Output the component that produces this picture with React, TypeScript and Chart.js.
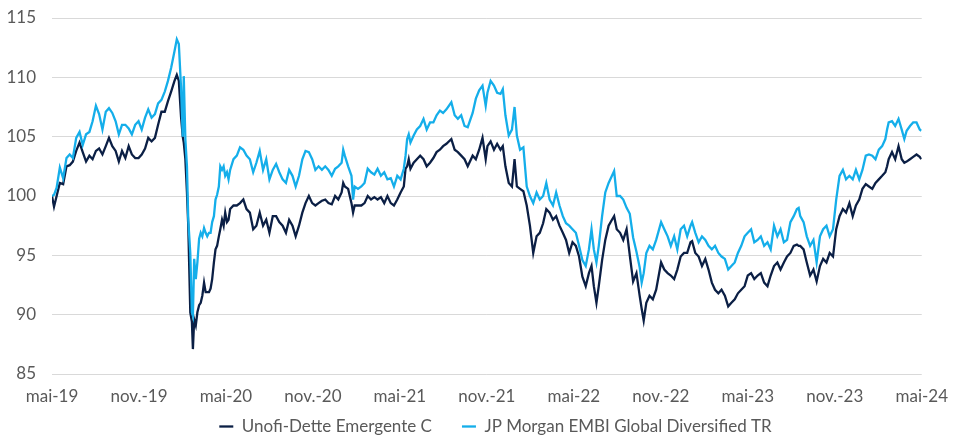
import React, { useEffect, useRef } from 'react';
import { Chart, registerables } from 'chart.js';

Chart.register(...registerables);

const xTickLabels = ['mai-19', 'nov.-19', 'mai-20', 'nov.-20', 'mai-21', 'nov.-21', 'mai-22', 'nov.-22', 'mai-23', 'nov.-23', 'mai-24'];

const seriesNames = ['Unofi-Dette Emergente C', 'JP Morgan EMBI Global Diversified TR'];

// time in months since mai-19
const months = [
  0.00, 0.14, 0.32, 0.54, 0.77, 1.00, 1.22, 1.44, 1.67, 1.90,
  2.12, 2.35, 2.58, 2.80, 3.03, 3.25, 3.48, 3.71, 3.93, 4.16,
  4.39, 4.61, 4.83, 5.06, 5.29, 5.51, 5.74, 5.97, 6.19, 6.42,
  6.64, 6.87, 7.10, 7.32, 7.55, 7.78, 8.00, 8.22, 8.45, 8.61,
  8.75, 8.90, 9.02, 9.09, 9.20, 9.31, 9.40, 9.54, 9.65, 9.72,
  9.81, 9.92, 10.03, 10.15, 10.26, 10.37, 10.49, 10.60, 10.71, 10.83,
  10.94, 11.05, 11.17, 11.28, 11.39, 11.51, 11.61, 11.73, 11.84, 11.95,
  12.07, 12.18, 12.29, 12.52, 12.75, 12.97, 13.20, 13.42, 13.65, 13.88,
  14.10, 14.33, 14.56, 14.78, 15.00, 15.23, 15.46, 15.68, 15.91, 16.14,
  16.36, 16.59, 16.81, 17.04, 17.27, 17.49, 17.72, 17.95, 18.17, 18.39,
  18.62, 18.85, 19.07, 19.30, 19.53, 19.75, 19.98, 20.09, 20.20, 20.43,
  20.66, 20.77, 20.88, 21.11, 21.34, 21.56, 21.78, 22.01, 22.24, 22.46,
  22.69, 22.92, 23.14, 23.37, 23.59, 23.82, 24.05, 24.27, 24.39, 24.50,
  24.61, 24.73, 24.95, 25.17, 25.40, 25.63, 25.85, 26.08, 26.31, 26.53,
  26.76, 26.98, 27.21, 27.55, 27.78, 28.00, 28.23, 28.46, 28.68, 29.02,
  29.24, 29.47, 29.70, 29.92, 30.04, 30.26, 30.49, 30.71, 30.94, 31.10,
  31.28, 31.51, 31.73, 31.91, 32.07, 32.29, 32.52, 32.75, 32.97, 33.20,
  33.43, 33.65, 33.88, 34.10, 34.33, 34.56, 34.78, 35.01, 35.24, 35.46,
  35.68, 35.91, 36.14, 36.36, 36.59, 36.82, 37.04, 37.22, 37.38, 37.56,
  37.72, 37.95, 38.17, 38.40, 38.63, 38.78, 38.96, 39.19, 39.41, 39.64,
  39.86, 40.09, 40.32, 40.54, 40.68, 40.82, 41.00, 41.22, 41.45, 41.68,
  42.02, 42.24, 42.47, 42.69, 42.92, 43.14, 43.37, 43.60, 43.82, 44.05,
  44.16, 44.38, 44.61, 44.84, 45.07, 45.29, 45.52, 45.74, 45.97, 46.19,
  46.42, 46.65, 46.87, 47.10, 47.32, 47.55, 47.78, 48.00, 48.23, 48.45,
  48.68, 48.90, 49.13, 49.36, 49.58, 49.81, 50.04, 50.26, 50.49, 50.71,
  50.94, 51.17, 51.39, 51.51, 51.62, 51.85, 52.07, 52.30, 52.53, 52.75,
  52.98, 53.20, 53.43, 53.65, 53.88, 54.10, 54.33, 54.56, 54.78, 55.01,
  55.24, 55.46, 55.69, 55.91, 56.14, 56.36, 56.59, 56.81, 57.04, 57.27,
  57.49, 57.61, 57.72, 57.95, 58.17, 58.40, 58.62, 58.80, 58.96, 59.19,
  59.41, 59.64, 59.86, 59.97,
];

const unofiValues = [
  100.0, 99.1, 100.0, 101.1, 101.0, 102.5, 102.6, 102.9, 103.8, 104.5,
  103.7, 102.9, 103.4, 103.1, 103.8, 104.0, 103.5, 104.2, 104.9, 104.2,
  103.8, 102.9, 103.8, 103.2, 104.2, 103.5, 103.2, 103.2, 103.5, 104.0,
  104.9, 104.6, 104.9, 106.0, 107.1, 107.1, 108.0, 108.8, 109.7, 110.2,
  109.7, 106.7, 105.0, 104.5, 103.1, 100.3, 97.5, 90.2, 89.4, 87.1,
  89.6, 89.1, 90.2, 90.8, 91.0, 91.6, 92.7, 91.9, 91.9, 91.9,
  92.2, 93.0, 94.4, 95.5, 95.8, 96.6, 97.2, 98.0, 97.5, 98.6,
  97.8, 98.0, 98.9, 99.2, 99.2, 99.4, 99.7, 98.9, 98.6, 97.2,
  97.5, 98.6, 97.5, 98.0, 96.9, 98.3, 98.3, 97.8, 97.5, 96.9,
  98.0, 97.5, 96.6, 97.5, 98.6, 99.4, 100.0, 99.4, 99.2, 99.4,
  99.6, 99.7, 99.4, 99.3, 100.0, 99.7, 100.3, 101.1, 100.8, 100.6,
  99.4, 98.6, 99.2, 99.2, 99.2, 99.4, 100.0, 99.7, 99.9, 99.7,
  99.9, 99.4, 100.0, 99.4, 99.2, 99.7, 100.3, 100.8, 102.3, 102.5,
  103.1, 102.3, 102.8, 103.1, 103.4, 103.1, 102.5, 102.8, 103.2, 103.7,
  103.9, 104.2, 104.4, 104.8, 103.9, 103.7, 103.4, 103.1, 102.5, 103.4,
  103.1, 103.9, 104.9, 103.1, 104.2, 104.6, 103.9, 104.4, 103.9, 104.2,
  102.5, 101.1, 100.8, 103.1, 100.8, 100.6, 100.4, 99.2, 97.5, 95.2,
  96.6, 96.9, 97.7, 98.9, 98.6, 98.0, 98.3, 97.5, 96.9, 96.3,
  95.2, 96.1, 95.8, 94.9, 93.2, 92.4, 93.5, 94.1, 92.4, 91.0,
  92.4, 94.6, 96.3, 97.5, 98.0, 98.3, 97.2, 96.9, 96.3, 97.2,
  95.0, 92.8, 93.5, 91.6, 90.5, 89.5, 91.0, 91.6, 91.3, 92.1,
  94.4, 93.8, 93.5, 93.3, 93.0, 93.8, 94.9, 95.2, 95.2, 96.1,
  96.2, 95.2, 94.9, 94.1, 94.7, 93.8, 92.7, 92.1, 91.8, 92.1,
  91.6, 90.7, 91.0, 91.3, 91.8, 92.1, 92.4, 93.3, 93.5, 93.0,
  93.3, 93.5, 92.7, 92.4, 93.3, 94.1, 94.4, 93.8, 94.4, 94.9,
  95.2, 95.8, 95.9, 95.8, 95.8, 95.5, 94.4, 93.3, 93.8, 92.8,
  94.1, 94.7, 94.4, 95.2, 94.9, 97.2, 98.3, 98.9, 98.6, 99.4,
  98.3, 99.2, 99.7, 100.6, 101.0, 100.8, 100.6, 101.1, 101.4, 101.7,
  102.0, 102.5, 103.1, 103.7, 103.1, 104.2, 103.1, 102.8, 102.9, 103.1,
  103.3, 103.5, 103.3, 103.1,
];

const jpmValues = [
  100.0, 100.1, 100.7, 102.4, 101.5, 103.2, 103.5, 103.2, 104.9, 105.4,
  104.3, 105.2, 105.4, 106.3, 107.6, 106.9, 105.6, 107.1, 107.4, 107.0,
  106.3, 105.2, 106.0, 106.0, 105.7, 105.2, 106.0, 106.3, 105.6, 106.6,
  107.3, 106.6, 106.9, 107.8, 108.1, 108.8, 109.7, 110.8, 112.2, 113.2,
  112.8, 109.2, 105.0, 110.1, 104.8, 102.5, 98.0, 95.2, 90.2, 89.9,
  94.7, 93.0, 94.4, 96.4, 96.9, 96.6, 97.3, 96.9, 96.6, 96.9,
  96.9, 97.8, 98.3, 99.7, 100.1, 100.8, 102.5, 102.2, 102.5, 101.7,
  102.0, 101.4, 102.2, 103.1, 103.4, 104.1, 103.9, 103.4, 103.1, 102.0,
  102.8, 103.8, 102.2, 103.1, 101.4, 102.2, 102.7, 102.0, 101.4, 101.1,
  102.2, 101.7, 100.8, 101.7, 103.1, 103.8, 103.7, 103.1, 102.2, 102.5,
  102.2, 102.5, 102.2, 101.7, 102.3, 102.5, 102.8, 103.9, 103.4, 102.5,
  101.7, 99.7, 100.8, 100.6, 100.8, 101.1, 102.3, 102.0, 101.8, 102.3,
  101.7, 102.0, 101.4, 101.5, 100.8, 101.7, 101.4, 102.3, 103.4, 104.8,
  105.2, 104.5, 105.1, 105.6, 105.9, 106.5, 105.6, 106.2, 106.2, 106.8,
  107.2, 107.0, 107.3, 107.9, 106.8, 106.5, 106.8, 105.9, 105.8, 107.0,
  108.2, 108.9, 109.3, 107.6, 108.7, 109.7, 109.3, 108.7, 108.6, 109.0,
  106.8, 105.1, 105.6, 107.5, 105.1, 103.9, 104.1, 100.8, 100.0, 99.4,
  100.3, 99.7, 100.0, 101.1, 99.7, 99.2, 100.3, 99.2, 98.3, 97.7,
  97.5, 97.2, 96.9, 95.8, 94.6, 94.1, 95.5, 97.2, 95.5, 94.4,
  95.8, 98.3, 100.3, 101.1, 101.7, 102.1, 100.0, 100.0, 99.7, 99.0,
  98.5, 96.5, 95.3, 94.0, 92.7, 93.5, 95.2, 95.8, 95.5, 96.3,
  97.8, 97.2, 96.6, 95.8, 96.6, 95.5, 97.2, 97.5, 96.6, 97.5,
  97.8, 96.9, 96.1, 96.6, 96.3, 95.8, 95.5, 95.8, 95.2, 94.9,
  94.7, 93.8, 94.1, 94.4, 95.2, 95.8, 96.6, 96.9, 97.2, 96.1,
  96.3, 96.6, 95.8, 96.1, 95.5, 97.5, 96.6, 97.2, 96.1, 96.3,
  97.8, 98.3, 98.9, 99.0, 98.3, 97.8, 96.6, 95.8, 96.3, 94.4,
  96.6, 97.2, 97.5, 96.6, 97.2, 99.7, 101.7, 102.2, 101.4, 101.7,
  101.4, 102.2, 101.4, 102.2, 103.4, 103.5, 103.4, 103.1, 103.9, 104.2,
  104.8, 105.6, 106.2, 106.3, 105.9, 106.5, 105.6, 104.8, 105.5, 105.9,
  106.2, 106.2, 105.6, 105.5,
];

const yMin = 85;
const yMax = 115;
const yStep = 5;

// nudges the built-in legend so it is centred under the plot area like the original
const legendNudge = {
  id: 'legendNudge',
  afterLayout(chart: any) {
    const lg = chart.legend;
    if (!lg) return;
    lg.left += 27;
    lg.right += 27;
    lg.top -= 20;
    lg.bottom -= 20;
  },
};

export default function App() {
  const canvasRef = useRef<HTMLCanvasElement>(null);

  useEffect(() => {
    document.body.style.margin = '0';
    const canvas = canvasRef.current;
    if (!canvas) return;
    const tickFont = { family: 'Lato', size: 17 };
    const chart = new Chart(canvas, {
      type: 'line',
      data: {
        datasets: [
          {
            label: seriesNames[0],
            data: months.map((m, i) => ({ x: m, y: unofiValues[i] })),
            borderColor: '#0B1F45',
            backgroundColor: '#0B1F45',
            borderWidth: 2.3,
            pointRadius: 0,
            tension: 0,
            order: 1,
          },
          {
            label: seriesNames[1],
            data: months.map((m, i) => ({ x: m, y: jpmValues[i] })),
            borderColor: '#14AEEA',
            backgroundColor: '#14AEEA',
            borderWidth: 2.3,
            pointRadius: 0,
            tension: 0,
            order: 0,
          },
        ],
      },
      plugins: [legendNudge],
      options: {
        animation: false,
        responsive: false,
        devicePixelRatio: 1,
        layout: { padding: { top: 18, right: 23, left: 0, bottom: -29 } },
        scales: {
          x: {
            type: 'linear',
            min: 0,
            max: 60,
            grid: { display: false, drawTicks: false },
            border: { display: false },
            ticks: {
              stepSize: 6,
              autoSkip: false,
              maxRotation: 0,
              padding: 12,
              color: '#595959',
              font: tickFont,
              callback: (v: any) => {
                const idx = Math.round(Number(v) / 6);
                return Math.abs(Number(v) - idx * 6) < 1e-6 ? xTickLabels[idx] : '';
              },
            },
            afterFit: (s: any) => {
              s.height = 34;
            },
          },
          y: {
            min: yMin,
            max: yMax,
            grid: { color: '#D9D9D9', lineWidth: 1, drawTicks: false },
            border: { display: false },
            ticks: {
              stepSize: yStep,
              padding: 16,
              color: '#595959',
              font: tickFont,
            },
            afterFit: (s: any) => {
              s.width = 52;
              s.paddingTop = 9;
              s.paddingBottom = 9;
            },
          },
        },
        plugins: {
          legend: {
            position: 'bottom',
            labels: {
              usePointStyle: true,
              pointStyle: 'line',
              pointStyleWidth: 14,
              color: '#595959',
              font: { family: 'Lato', size: 17 },
              padding: 30,
              sort: (a: any, b: any) => a.datasetIndex - b.datasetIndex,
            },
          },
          tooltip: { enabled: false },
        },
      },
    });
    return () => chart.destroy();
  }, []);

  return (
    <div style={{ width: 960, height: 436 }}>
      <canvas ref={canvasRef} width={960} height={436} style={{ display: 'block' }} />
    </div>
  );
}
